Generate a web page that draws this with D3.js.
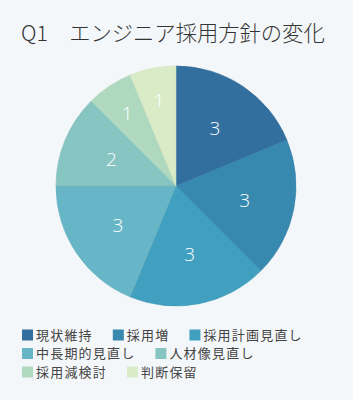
<!DOCTYPE html>
<html>
<head>
<meta charset="utf-8">
<script src="https://cdn.jsdelivr.net/npm/d3@7"></script>
<style>
  html, body { margin: 0; padding: 0; background: #f4f7f9; }
  svg { display: block; }
</style>
</head>
<body>
<svg id="chart" width="353" height="400"></svg>
<script>
var categories = ['現状維持', '採用増', '採用計画見直し', '中長期的見直し', '人材像見直し', '採用減検討', '判断保留'];
var values = [3, 3, 3, 3, 2, 1, 1];
var colors = ['#336f9e', '#3889b0', '#41a0c0', '#67b6c8', '#87c5c3', '#afd9bf', '#d9ecc7'];

var width = 353, height = 400;
var cx = 176, cy = 186, radius = 120;
var fontCJK = '"Noto Sans CJK JP", "Noto Sans", sans-serif';

var svg = d3.select('#chart');

svg.append('rect')
  .attr('width', width)
  .attr('height', height)
  .attr('fill', '#f4f7f9');

// title
svg.append('text')
  .attr('x', 21)
  .attr('y', 41)
  .attr('font-family', fontCJK)
  .attr('font-size', 21.3)
  .attr('font-weight', 300)
  .attr('fill', '#333')
  .text('Q1　エンジニア採用方針の変化');

var color = d3.scaleOrdinal().domain(categories).range(colors);

var pie = d3.pie().sort(null).value(function (d) { return d.value; });
var data = categories.map(function (c, i) { return { name: c, value: values[i] }; });
var arcs = pie(data);

var arc = d3.arc().innerRadius(0).outerRadius(radius);
// thin slices get their label pushed further out
function labelPos(d) {
  var r = (d.endAngle - d.startAngle) < 0.5 ? 88 : 70;
  return d3.arc().innerRadius(r).outerRadius(r).centroid(d);
}

var group = svg.append('g')
  .attr('transform', 'translate(' + cx + ',' + cy + ')');

group.selectAll('path')
  .data(arcs)
  .enter()
  .append('path')
  .attr('d', arc)
  .attr('fill', function (d) { return color(d.data.name); })
  .attr('stroke', function (d) { return d3.color(color(d.data.name)).darker(0.15); })
  .attr('stroke-width', 0.6);

group.selectAll('text')
  .data(arcs)
  .enter()
  .append('text')
  .attr('transform', function (d) { return 'translate(' + labelPos(d) + ')'; })
  .attr('text-anchor', 'middle')
  .attr('dy', '0.36em')
  .attr('font-family', '"Open Sans", "Noto Sans", sans-serif')
  .attr('font-size', 19)
  .attr('font-weight', 300)
  .attr('fill', '#ffffff')
  .text(function (d) { return d.data.value; });

// legend, flowing items
var legend = svg.append('g');
var lx = 22, ly = 335, maxX = 335, rowH = 18.5;
var x = lx, y = ly;
categories.forEach(function (c) {
  var item = legend.append('g');
  item.append('rect')
    .attr('width', 11)
    .attr('height', 11)
    .attr('y', -5.5)
    .attr('fill', color(c));
  var t = item.append('text')
    .attr('x', 14)
    .attr('dy', '0.36em')
    .attr('font-family', fontCJK)
    .attr('font-size', 13)
    .attr('letter-spacing', 1.2)
    .attr('fill', '#444')
    .text(c);
  var w = 14 + t.node().getComputedTextLength();
  if (x + w > maxX && x > lx) {
    x = lx;
    y += rowH;
  }
  item.attr('transform', 'translate(' + x + ',' + y + ')');
  x += w + 20;
});
</script>
</body>
</html>
